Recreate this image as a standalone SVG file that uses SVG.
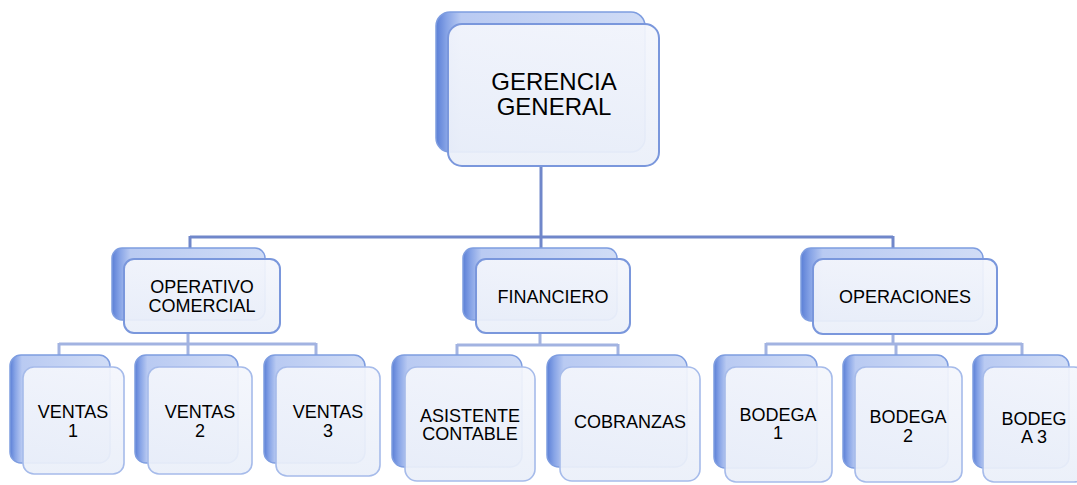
<svg xmlns="http://www.w3.org/2000/svg" width="1077" height="485" viewBox="0 0 1077 485">
<defs>
<linearGradient id="backH" x1="0" y1="0" x2="1" y2="0">
<stop offset="0" stop-color="#5b7fd6"/>
<stop offset="0.05" stop-color="#86a3e6"/>
<stop offset="0.12" stop-color="#b9caf2"/>
<stop offset="1" stop-color="#d0dcf6"/>
</linearGradient>
<linearGradient id="frontV" x1="0" y1="0" x2="0" y2="1">
<stop offset="0" stop-color="#f4f6fc"/>
<stop offset="1" stop-color="#eaeff9"/>
</linearGradient>
<style>
.back{fill:url(#backH);stroke:#7e9de0;stroke-width:1.5}
.front{fill:url(#frontV);fill-opacity:0.93;stroke:#7a97dc;stroke-width:2}
.fs{stroke:#a6bbea;stroke-width:1.6}
.t{font-family:"Liberation Sans",Arial,sans-serif;fill:#000;text-anchor:middle}
.big{font-size:24px}
.sm{font-size:18px}
.c1{stroke:#7087ca;stroke-width:3;fill:none}
.c2{stroke:#a2b3e1;stroke-width:3;fill:none}
</style>
</defs>
<g id="connectors">
<path class="c1" d="M541 166V248M190 237H893M190 236V248M893 236V248"/>
<path class="c2" d="M188 333V344M59 344H316M59 343V355M188 343V355M316 343V355"/>
<path class="c2" d="M540 333V345M457 345H618M457 344V355M618 344V355"/>
<path class="c2" d="M893 334V344M766 344H1022M766 343V355M896 343V355M1022 343V355"/>
</g>
<g id="gerencia">
<rect class="back" x="436" y="12" width="209" height="140" rx="14"/>
<rect class="front" x="448" y="24" width="211" height="142" rx="14"/>
<text class="t big" x="554" y="90">GERENCIA</text>
<text class="t big" x="554" y="115">GENERAL</text>
</g>
<g id="operativo">
<rect class="back" x="112" y="248" width="153" height="72" rx="10"/>
<rect class="front" x="124" y="259" width="156" height="74" rx="10"/>
<text class="t sm" x="202" y="293">OPERATIVO</text>
<text class="t sm" x="202" y="312">COMERCIAL</text>
</g>
<g id="financiero">
<rect class="back" x="463" y="248" width="154" height="72" rx="10"/>
<rect class="front" x="476" y="259" width="154" height="74" rx="10"/>
<text class="t sm" x="553" y="303">FINANCIERO</text>
</g>
<g id="operaciones">
<rect class="back" x="801" y="248" width="182" height="73" rx="10"/>
<rect class="front" x="813" y="259" width="184" height="75" rx="10"/>
<text class="t sm" x="905" y="303">OPERACIONES</text>
</g>
<g id="ventas1">
<rect class="back" x="10" y="355" width="100" height="108" rx="11"/>
<rect class="front fs" x="23" y="367" width="101" height="107" rx="11"/>
<text class="t sm" x="73" y="418">VENTAS</text>
<text class="t sm" x="73" y="437">1</text>
</g>
<g id="ventas2">
<rect class="back" x="135" y="355" width="103" height="108" rx="11"/>
<rect class="front fs" x="148" y="367" width="104" height="107" rx="11"/>
<text class="t sm" x="200" y="418">VENTAS</text>
<text class="t sm" x="200" y="437">2</text>
</g>
<g id="ventas3">
<rect class="back" x="264" y="355" width="101" height="108" rx="11"/>
<rect class="front fs" x="276" y="367" width="104" height="109" rx="11"/>
<text class="t sm" x="328" y="418">VENTAS</text>
<text class="t sm" x="328" y="437">3</text>
</g>
<g id="asistente">
<rect class="back" x="392" y="355" width="130" height="112" rx="12"/>
<rect class="front fs" x="405" y="367" width="130" height="114" rx="12"/>
<text class="t sm" x="470" y="422">ASISTENTE</text>
<text class="t sm" x="470" y="440">CONTABLE</text>
</g>
<g id="cobranzas">
<rect class="back" x="547" y="355" width="140" height="112" rx="12"/>
<rect class="front fs" x="560" y="367" width="140" height="114" rx="12"/>
<text class="t sm" x="630" y="428">COBRANZAS</text>
</g>
<g id="bodega1">
<rect class="back" x="714" y="355" width="103" height="113" rx="11"/>
<rect class="front fs" x="725" y="367" width="107" height="115" rx="11"/>
<text class="t sm" x="778" y="421">BODEGA</text>
<text class="t sm" x="778" y="439">1</text>
</g>
<g id="bodega2">
<rect class="back" x="843" y="355" width="105" height="113" rx="11"/>
<rect class="front fs" x="855" y="367" width="107" height="115" rx="11"/>
<text class="t sm" x="908" y="423">BODEGA</text>
<text class="t sm" x="908" y="442">2</text>
</g>
<g id="bodega3">
<rect class="back" x="973" y="355" width="96" height="113" rx="11"/>
<rect class="front fs" x="983" y="367" width="102" height="115" rx="11"/>
<text class="t sm" x="1034" y="425">BODEG</text>
<text class="t sm" x="1034" y="443">A 3</text>
</g>
</svg>
